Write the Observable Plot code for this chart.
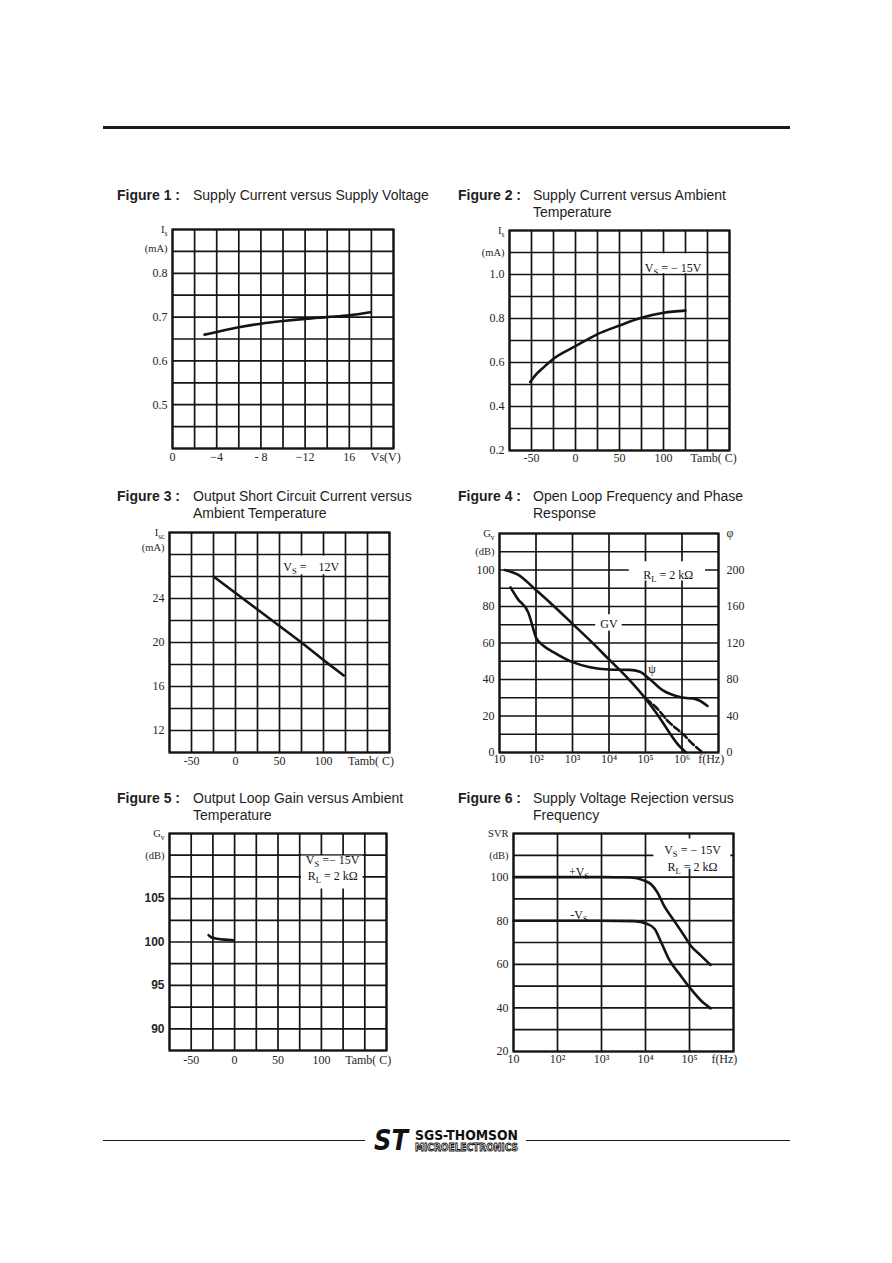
<!DOCTYPE html>
<html>
<head>
<meta charset="utf-8">
<script src="https://cdn.jsdelivr.net/npm/d3@7"></script>
<script src="https://cdn.jsdelivr.net/npm/@observablehq/plot@0.6"></script>
<style>
  html, body { margin: 0; padding: 0; background: #fff; }
  #page { position: relative; width: 892px; height: 1263px; overflow: hidden; background: #fff;
          font-family: "Liberation Sans", Arial, sans-serif; color: #1e1e1e; }
  .rule { position: absolute; background: #1a1a1a; }
  .title { position: absolute; font-size: 14px; line-height: 17px; white-space: nowrap; }
  .title .num { font-weight: bold; position: absolute; left: 0; top: 0; }
  .title .txt { position: absolute; top: 0; }
</style>
</head>
<body>
<div id="page"></div>
<script>
// ================= DATA =================
// Figure 1 : Supply current vs supply voltage
const fig1Vs = [2.9, 4, 6, 8, 10, 12, 14, 16, 17.9];
const fig1Is = [0.660, 0.666, 0.677, 0.685, 0.691, 0.696, 0.700, 0.704, 0.711];
const fig1XTicks = [0, 4, 8, 12, 16, 19.3];
const fig1XLabels = ["0", "\u22124", "- 8", "\u221212", "16", "Vs(V)"];
const fig1YTicks = [0.8, 0.7, 0.6, 0.5];
const fig1YLabels = ["0.8", "0.7", "0.6", "0.5"];
const fig1UnitTicks = [0.9, 0.856];
const fig1UnitLabels = ["I_s", "(mA)"];

// Figure 2 : Supply current vs ambient temperature
const fig2T = [-51.5, -44, -36, -25, 0, 24, 50, 74, 100, 125];
const fig2Is = [0.511, 0.549, 0.579, 0.617, 0.674, 0.727, 0.768, 0.802, 0.826, 0.836];
const fig2XTicks = [-50, 0, 50, 100, 157];
const fig2XLabels = ["-50", "0", "50", "100", "Tamb( C)"];
const fig2YTicks = [1.0, 0.8, 0.6, 0.4, 0.2];
const fig2YLabels = ["1.0", "0.8", "0.6", "0.4", "0.2"];
const fig2UnitTicks = [1.2, 1.101];
const fig2UnitLabels = ["I_s", "(mA)"];
const fig2Notes = [{x: 111, y: 1.035, text: "V_S = \u2212 15V"}];
const fig2Boxes = [{x1: 77, x2: 148, y1: 1.004, y2: 1.094}];

// Figure 3 : Output short circuit current vs ambient temperature
const fig3T = [-25, 0, 25, 50, 75, 100, 123];
const fig3Isc = [26, 24.5, 23, 21.5, 20, 18.4, 17];
const fig3XTicks = [-50, 0, 50, 100, 154];
const fig3XLabels = ["-50", "0", "50", "100", "Tamb( C)"];
const fig3YTicks = [24, 20, 16, 12];
const fig3YLabels = ["24", "20", "16", "12"];
const fig3UnitTicks = [30, 28.6];
const fig3UnitLabels = ["I_{sc}", "(mA)"];
const fig3Notes = [{x: 86, y: 27, text: "V_S =\u00a0\u00a0\u00a0 12V"}];
const fig3Boxes = [{x1: 52, x2: 123, y1: 26.15, y2: 27.85}];

// Figure 4 : Open loop frequency and phase response
const fig4GvF = [14, 32, 100, 316, 1000, 3160, 1e4, 3.16e4, 1e5, 2e5, 3.2e5, 5.1e5, 8e5, 1.3e6];
const fig4GvDb = [100, 97.5, 89, 80, 70.5, 61, 51, 41, 29.5, 21.5, 15.5, 9.3, 4, 0];
const fig4GvDashF = [1e5, 2e5, 4e5, 1.17e6, 2e6, 3.7e6];
const fig4GvDashDb = [29.5, 24.5, 17.5, 9.3, 4.5, 0];
const fig4PsiF = [20, 32, 62, 85, 100, 160, 300, 1000, 3000, 1e4, 3.6e4, 7e4, 1.3e5, 3e5, 9.3e5, 2.4e6, 5e6];
const fig4PsiDeg = [181, 168, 153, 135, 126, 117, 110, 99, 93.5, 91, 90.5, 88.5, 80.5, 68, 60.5, 58.5, 51];
const fig4XTicks = [10, 1e2, 1e3, 1e4, 1e5, 1e6, 6.3e6];
const fig4XLabels = ["10", "10\u00b2", "10\u00b3", "10\u2074", "10\u2075", "10\u2076", "f(Hz)"];
const fig4YTicks = [100, 80, 60, 40, 20, 0];
const fig4YLabels = ["100", "80", "60", "40", "20", "0"];
const fig4UnitTicks = [120, 110];
const fig4UnitLabels = ["G_v", "(dB)"];
const fig4RTicks = [120, 100, 80, 60, 40, 20, 0];
const fig4RLabels = ["\u03c6", "200", "160", "120", "80", "40", "0"];
const fig4Notes = [
  {x: 4.2e5, y: 98, text: "R_L = 2 k\u03a9"},
  {x: 1e4, y: 71, text: "GV"},
  {x: 1.5e5, y: 46.5, text: "\u03c8"}
];
const fig4Boxes = [
  {x1: 3.6e4, x2: 4.4e6, y1: 94, y2: 104.5},
  {x1: 4.3e3, x2: 2.3e4, y1: 66.5, y2: 75.5}
];

// Figure 5 : Output loop gain vs ambient temperature
const fig5T = [-30, -27, -20, -12, -1];
const fig5Gv = [100.8, 100.55, 100.38, 100.27, 100.2];
const fig5XTicks = [-50, 0, 50, 100, 154];
const fig5XLabels = ["-50", "0", "50", "100", "Tamb( C)"];
const fig5YTicks = [105, 100, 95, 90];
const fig5YLabels = ["105", "100", "95", "90"];
const fig5UnitTicks = [112.5, 110];
const fig5UnitLabels = ["G_v", "(dB)"];
const fig5Notes = [{x: 113, y: 108.65, text: "V_S =\u2212 15V\nR_L = 2 k\u03a9"}];
const fig5Boxes = [{x1: 77, x2: 148, y1: 106.1, y2: 109.9}];

// Figure 6 : Supply voltage rejection vs frequency
const fig6PosF = [10, 1000, 4570, 9100, 13200, 18600, 26300, 44700, 75900, 107000, 182000, 302000];
const fig6PosDb = [100, 100, 99.8, 98.5, 96.8, 93, 86.9, 80, 73.1, 68.5, 64, 59.7];
const fig6NegF = [10, 1000, 5500, 11000, 16200, 21900, 33900, 63100, 107000, 182000, 302000];
const fig6NegDb = [80, 80, 79.8, 78.5, 76.2, 70.8, 62.4, 54.8, 48.7, 43.4, 39.8];
const fig6XTicks = [10, 1e2, 1e3, 1e4, 1e5, 6.2e5];
const fig6XLabels = ["10", "10\u00b2", "10\u00b3", "10\u2074", "10\u2075", "f(Hz)"];
const fig6YTicks = [100, 80, 60, 40, 20];
const fig6YLabels = ["100", "80", "60", "40", "20"];
const fig6UnitTicks = [120, 110];
const fig6UnitLabels = ["SVR", "(dB)"];
const fig6Notes = [
  {x: 1.17e5, y: 109.2, text: "V_S = \u2212 15V\nR_L = 2 k\u03a9"},
  {x: 309, y: 103.1, text: "+V_S"},
  {x: 309, y: 83.3, text: "-V_S"}
];
const fig6Boxes = [{x1: 1.55e4, x2: 8.7e5, y1: 103.6, y2: 117.5}];

const titleNums = ["Figure 1 :", "Figure 2 :", "Figure 3 :", "Figure 4 :", "Figure 5 :", "Figure 6 :"];
const titleTexts = [
  ["Supply Current versus Supply Voltage"],
  ["Supply Current versus Ambient", "Temperature"],
  ["Output Short Circuit Current versus", "Ambient Temperature"],
  ["Open Loop Frequency and Phase", "Response"],
  ["Output Loop Gain versus Ambient", "Temperature"],
  ["Supply Voltage Rejection versus", "Frequency"]
];

// ================= RENDER =================
const page = document.getElementById("page");
const INK = "#141414";
const LABEL = "#262626";
const SERIF = "'Liberation Serif','Times New Roman','DejaVu Serif',serif";
const SANS = "'Liberation Sans',Arial,sans-serif";

function pts(xs, ys) { return xs.map((x, i) => ({x, y: ys[i]})); }
function lut(keys, labels) { const m = new Map(keys.map((k, i) => [k, labels[i]])); return d => m.get(d); }
function range(a, b, n) { return d3.range(n + 1).map(i => a + (b - a) * i / n); }

function subscripts(svg) {
  const NS = "http://www.w3.org/2000/svg";
  svg.querySelectorAll("text").forEach(t => {
    const nodes = t.querySelector("tspan") ? Array.from(t.querySelectorAll("tspan")) : [t];
    nodes.forEach(node => {
      const s = node.textContent;
      if (!s.includes("_")) return;
      const segs = [];
      const re = /_\{([^}]*)\}|_(.)/g;
      let last = 0, mm;
      while ((mm = re.exec(s))) {
        segs.push({t: s.slice(last, mm.index), sub: false});
        segs.push({t: mm[1] !== undefined ? mm[1] : mm[2], sub: true});
        last = re.lastIndex;
      }
      segs.push({t: s.slice(last), sub: false});
      while (node.firstChild) node.removeChild(node.firstChild);
      let afterSub = false;
      segs.forEach(sg => {
        if (sg.sub) {
          const el = document.createElementNS(NS, "tspan");
          el.setAttribute("dy", "3");
          el.setAttribute("font-size", "0.72em");
          el.textContent = sg.t;
          node.appendChild(el);
          afterSub = true;
        } else if (afterSub) {
          if (sg.t) {
            const el = document.createElementNS(NS, "tspan");
            el.setAttribute("dy", "-3");
            el.textContent = sg.t;
            node.appendChild(el);
          }
          afterSub = false;
        } else if (sg.t) {
          node.appendChild(document.createTextNode(sg.t));
        }
      });
    });
  });
}

function line(xs, ys, extra = {}) {
  return Plot.line(pts(xs, ys), {x: "x", y: "y", stroke: INK, strokeWidth: 2.6, curve: "monotone-x", ...extra});
}

function drawFigure(o) {
  const m = {l: 64, r: 64, t: 16, b: 34};
  const marks = [
    Plot.ruleX(o.xGrid, {stroke: INK, strokeWidth: 1.7}),
    Plot.ruleY(o.yGrid, {stroke: INK, strokeWidth: 1.7})
  ];
  if (o.boxes) marks.push(Plot.rect(o.boxes, {x1: "x1", x2: "x2", y1: "y1", y2: "y2", fill: "white"}));
  marks.push(...o.curves);
  if (o.notes) marks.push(Plot.text(o.notes, {x: "x", y: "y", text: "text", fontSize: 12, fontFamily: SERIF, fill: INK, lineHeight: 1.38}));
  marks.push(Plot.frame({stroke: INK, strokeWidth: 2.2}));
  // x tick labels (drawn as a text mark so that log scales keep every label)
  marks.push(Plot.text(o.xTicks, {x: d => d, text: lut(o.xTicks, o.xLabels), frameAnchor: "bottom", lineAnchor: "top",
                                  dy: o.xPad ?? 5, fontSize: 12, fontFamily: SERIF, fill: LABEL}));
  marks.push(Plot.axisY(o.yTicks, {label: null, tickSize: 0, tickPadding: 5, tickFormat: lut(o.yTicks, o.yLabels), fontSize: 12, fontFamily: SERIF, ...(o.yStyle || {})}));
  marks.push(Plot.axisY(o.unitTicks, {label: null, tickSize: 0, tickPadding: 5, tickFormat: lut(o.unitTicks, o.unitLabels), fontSize: 10.5, fontFamily: SERIF}));
  if (o.rTicks) marks.push(Plot.axisY(o.rTicks, {anchor: "right", label: null, tickSize: 0, tickPadding: 8, tickFormat: lut(o.rTicks, o.rLabels), fontSize: 12, fontFamily: SERIF}));
  const svg = Plot.plot({
    width: o.frame.w + m.l + m.r, height: o.frame.h + m.t + m.b,
    marginLeft: m.l, marginRight: m.r, marginTop: m.t, marginBottom: m.b,
    x: {...o.x, axis: null}, y: o.y,
    style: {background: "transparent", color: LABEL, overflow: "visible", position: "absolute",
            left: (o.frame.x - m.l) + "px", top: (o.frame.y - m.t) + "px"},
    marks
  });
  subscripts(svg);
  page.appendChild(svg);
}

// Figure 1
drawFigure({
  frame: {x: 172, y: 229, w: 221, h: 219},
  x: {domain: [0, 20]}, y: {domain: [0.4, 0.9]},
  xGrid: range(0, 20, 10), yGrid: range(0.4, 0.9, 10),
  xTicks: fig1XTicks, xLabels: fig1XLabels, yTicks: fig1YTicks, yLabels: fig1YLabels,
  unitTicks: fig1UnitTicks, unitLabels: fig1UnitLabels, xPad: 4,
  curves: [line(fig1Vs, fig1Is)]
});
// Figure 2
drawFigure({
  frame: {x: 509, y: 230, w: 220, h: 220},
  x: {domain: [-75, 175]}, y: {domain: [0.2, 1.2]},
  xGrid: range(-75, 175, 10), yGrid: range(0.2, 1.2, 10),
  xTicks: fig2XTicks, xLabels: fig2XLabels, yTicks: fig2YTicks, yLabels: fig2YLabels,
  unitTicks: fig2UnitTicks, unitLabels: fig2UnitLabels, xPad: 3,
  boxes: fig2Boxes, notes: fig2Notes,
  curves: [line(fig2T, fig2Is)]
});
// Figure 3
drawFigure({
  frame: {x: 169, y: 532, w: 220, h: 220},
  x: {domain: [-75, 175]}, y: {domain: [10, 30]},
  xGrid: range(-75, 175, 10), yGrid: range(10, 30, 10),
  xTicks: fig3XTicks, xLabels: fig3XLabels, yTicks: fig3YTicks, yLabels: fig3YLabels,
  unitTicks: fig3UnitTicks, unitLabels: fig3UnitLabels, xPad: 4,
  boxes: fig3Boxes, notes: fig3Notes,
  curves: [line(fig3T, fig3Isc, {curve: "linear"})]
});
// Figure 4
drawFigure({
  frame: {x: 499, y: 533, w: 219, h: 219},
  x: {type: "log", domain: [10, 1e7]}, y: {domain: [0, 120]},
  xGrid: [10, 1e2, 1e3, 1e4, 1e5, 1e6, 1e7], yGrid: range(0, 120, 12),
  xTicks: fig4XTicks, xLabels: fig4XLabels, yTicks: fig4YTicks, yLabels: fig4YLabels,
  unitTicks: fig4UnitTicks, unitLabels: fig4UnitLabels, rTicks: fig4RTicks, rLabels: fig4RLabels, xPad: 2,
  boxes: fig4Boxes, notes: fig4Notes,
  curves: [
    line(fig4GvF, fig4GvDb),
    line(fig4GvDashF, fig4GvDashDb, {strokeDasharray: "7,3"}),
    line(fig4PsiF, fig4PsiDeg.map(p => p / 2))
  ]
});
// Figure 5
drawFigure({
  frame: {x: 169, y: 833, w: 217, h: 217},
  x: {domain: [-75, 175]}, y: {domain: [87.5, 112.5]},
  xGrid: range(-75, 175, 10), yGrid: range(87.5, 112.5, 10),
  xTicks: fig5XTicks, xLabels: fig5XLabels, yTicks: fig5YTicks, yLabels: fig5YLabels,
  yStyle: {fontFamily: SANS, fontWeight: "bold", fontSize: 12},
  unitTicks: fig5UnitTicks, unitLabels: fig5UnitLabels, xPad: 5,
  boxes: fig5Boxes, notes: fig5Notes,
  curves: [line(fig5T, fig5Gv)]
});
// Figure 6
drawFigure({
  frame: {x: 513, y: 833, w: 220, h: 218},
  x: {type: "log", domain: [10, 1e6]}, y: {domain: [20, 120]},
  xGrid: [10, 1e2, 1e3, 1e4, 1e5, 1e6], yGrid: range(20, 120, 10),
  xTicks: fig6XTicks, xLabels: fig6XLabels, yTicks: fig6YTicks, yLabels: fig6YLabels,
  unitTicks: fig6UnitTicks, unitLabels: fig6UnitLabels, xPad: 3,
  boxes: fig6Boxes, notes: fig6Notes,
  curves: [line(fig6PosF, fig6PosDb), line(fig6NegF, fig6NegDb)]
});

// Titles
const titlePos = [
  {x: 117, tx: 193, y: 187}, {x: 458, tx: 533, y: 187},
  {x: 117, tx: 193, y: 488}, {x: 458, tx: 533, y: 488},
  {x: 117, tx: 193, y: 790}, {x: 458, tx: 533, y: 790}
];
titleNums.forEach((n, i) => {
  const p = titlePos[i];
  const d = document.createElement("div");
  d.className = "title";
  d.style.left = p.x + "px"; d.style.top = p.y + "px";
  const a = document.createElement("span"); a.className = "num"; a.textContent = n;
  const b = document.createElement("span"); b.className = "txt"; b.style.left = (p.tx - p.x) + "px";
  b.innerHTML = titleTexts[i].join("<br>");
  d.appendChild(a); d.appendChild(b);
  page.appendChild(d);
});

// Rules
function rule(x, y, w, h) {
  const r = document.createElement("div"); r.className = "rule";
  Object.assign(r.style, {left: x + "px", top: y + "px", width: w + "px", height: h + "px"});
  page.appendChild(r);
}
rule(103, 126, 687, 2.5);
rule(103, 1140, 262, 1.3);
rule(526, 1140, 264, 1.3);

// Footer logo
const logo = document.createElement("div");
logo.style.position = "absolute"; logo.style.left = "370px"; logo.style.top = "1120px";
logo.innerHTML = `<svg width="160" height="44" xmlns="http://www.w3.org/2000/svg">
  <text x="4" y="30" font-family="'DejaVu Sans'" font-weight="bold" font-style="italic" font-size="28"
        textLength="34" lengthAdjust="spacingAndGlyphs" fill="#111">ST</text>
  <text x="45" y="19.5" font-family="'DejaVu Sans Condensed','DejaVu Sans'" font-weight="bold" font-size="14.5"
        textLength="103" lengthAdjust="spacingAndGlyphs" fill="#111">SGS-THOMSON</text>
  <text x="45" y="30.5" font-family="'DejaVu Sans Condensed','DejaVu Sans'" font-weight="bold" font-size="11"
        textLength="103" lengthAdjust="spacingAndGlyphs" fill="#fff" stroke="#111" stroke-width="0.9">MICROELECTRONICS</text>
</svg>`;
page.appendChild(logo);
</script>
</body>
</html>
